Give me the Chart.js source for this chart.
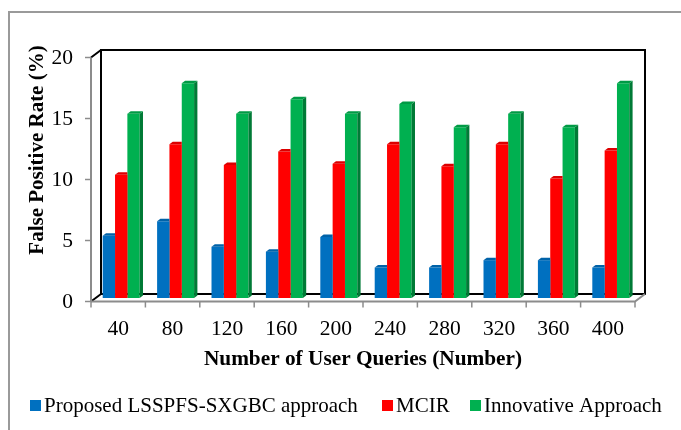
<!DOCTYPE html>
<html>
<head>
<meta charset="utf-8">
<script src="https://cdn.jsdelivr.net/npm/chart.js@4/dist/chart.umd.min.js"></script>
<style>
  html, body { margin: 0; padding: 0; background: #ffffff; }
  #wrap { width: 681px; height: 430px; position: relative; }
</style>
</head>
<body>
<div id="wrap"><canvas id="c" width="681" height="430"></canvas></div>
<script>
// Number of user queries on the x axis
const categories = ['40', '80', '120', '160', '200', '240', '280', '320', '360', '400'];
// False positive rate (%) of each method
const proposed   = [5.1, 6.3, 4.2, 3.8, 5.0, 2.5, 2.5, 3.1, 3.1, 2.5];
const mcir       = [10.1, 12.6, 10.9, 12.0, 11.0, 12.6, 10.8, 12.6, 9.8, 12.1];
const innovative = [15.1, 17.6, 15.1, 16.3, 15.1, 15.9, 14.0, 15.1, 14.0, 17.6];
const yTicks = [0, 5, 10, 15, 20];
const seriesNames = ['Proposed LSSPFS-SXGBC approach', 'MCIR', 'Innovative Approach'];

const frontColors = ['#0070C0', '#FF0000', '#00B050'];
const sideColors  = ['#00518c', '#b50000', '#007a36'];
const topColors   = ['#0062a8', '#dc0000', '#009a45'];

const FONT = '"Liberation Serif", "Times New Roman", serif';
// oblique offsets from the bar plane to the front edge and to the back wall
const FRONT = { dx: -3, dy: 3.5 };
const BACK  = { dx: 7,  dy: -4 };
const DEPTH = { dx: 3.3, dy: 2.5 };
// legend swatch positions
const LEGEND_X = [30, 382, 470];

// side and top faces of each column; a neighbouring column hides what lies behind it
const columns3d = {
  id: 'columns3d',
  afterDatasetsDraw(chart) {
    const ctx = chart.ctx;
    const metas = chart.getSortedVisibleDatasetMetas().sort((a, b) => a.index - b.index);
    metas.forEach((meta, k) => {
      const next = metas[k + 1];
      const i = meta.index;
      meta.data.forEach((el, j) => {
        const p = el.getProps(['x', 'y', 'base', 'width'], true);
        const l = p.x - p.width / 2, r = p.x + p.width / 2;
        ctx.save();
        if (next) {
          const q = next.data[j].getProps(['x', 'y', 'base', 'width'], true);
          ctx.beginPath();
          ctx.rect(0, 0, chart.width, chart.height);
          ctx.rect(q.x - q.width / 2, q.y, q.width, q.base - q.y);
          ctx.clip('evenodd');
        }
        ctx.fillStyle = sideColors[i];
        ctx.beginPath();
        ctx.moveTo(r, p.base);
        ctx.lineTo(r + DEPTH.dx, p.base - DEPTH.dy);
        ctx.lineTo(r + DEPTH.dx, p.y - DEPTH.dy);
        ctx.lineTo(r, p.y);
        ctx.closePath();
        ctx.fill();
        ctx.fillStyle = topColors[i];
        ctx.beginPath();
        ctx.moveTo(l, p.y);
        ctx.lineTo(l + DEPTH.dx, p.y - DEPTH.dy);
        ctx.lineTo(r + DEPTH.dx, p.y - DEPTH.dy);
        ctx.lineTo(r, p.y);
        ctx.closePath();
        ctx.fill();
        ctx.restore();
      });
    });
  }
};

// walls, floor, axes, labels, titles and legend
const frame = {
  id: 'frame',
  beforeDatasetsDraw(chart) {
    const { ctx, chartArea: ca, scales: { x, y } } = chart;
    ctx.save();
    // outer border
    ctx.strokeStyle = '#9a9a9a';
    ctx.lineWidth = 2;
    ctx.beginPath();
    ctx.moveTo(9, 440); ctx.lineTo(9, 12); ctx.lineTo(690, 12);
    ctx.stroke();

    const yTop = y.getPixelForValue(yTicks[yTicks.length - 1]);
    const yBot = y.getPixelForValue(0);
    // back wall
    ctx.strokeStyle = '#000';
    ctx.lineWidth = 2;
    ctx.strokeRect(ca.left + BACK.dx, yTop + BACK.dy, ca.right - ca.left, yBot - yTop);
    ctx.beginPath();
    ctx.moveTo(ca.left + FRONT.dx, yBot + FRONT.dy);
    ctx.lineTo(ca.left + BACK.dx, yBot + BACK.dy);
    ctx.moveTo(ca.left + FRONT.dx, yTop + FRONT.dy);
    ctx.lineTo(ca.left + BACK.dx, yTop + BACK.dy);
    ctx.stroke();
    // floor front edge and vertical axis
    ctx.strokeStyle = '#8c8c8c';
    ctx.lineWidth = 2;
    ctx.beginPath();
    ctx.moveTo(ca.left + FRONT.dx, yBot + FRONT.dy);
    ctx.lineTo(ca.right + FRONT.dx, yBot + FRONT.dy);
    ctx.lineTo(ca.right + BACK.dx, yBot + BACK.dy);
    ctx.moveTo(ca.left + FRONT.dx, yTop + FRONT.dy);
    ctx.lineTo(ca.left + FRONT.dx, yBot + FRONT.dy);
    ctx.stroke();

    // y ticks and labels
    ctx.lineWidth = 1.5;
    ctx.fillStyle = '#000';
    ctx.font = '21.5px ' + FONT;
    ctx.textAlign = 'right';
    ctx.textBaseline = 'middle';
    y.ticks.forEach(t => {
      const py = y.getPixelForValue(t.value) + FRONT.dy;
      ctx.beginPath();
      ctx.moveTo(ca.left + FRONT.dx - 6, py);
      ctx.lineTo(ca.left + FRONT.dx, py);
      ctx.stroke();
      ctx.fillText(String(t.value), ca.left + FRONT.dx - 18, py + 1);
    });

    // x ticks and labels
    const cw = (ca.right - ca.left) / categories.length;
    for (let i = 0; i <= categories.length; i++) {
      const px = ca.left + FRONT.dx + i * cw;
      ctx.beginPath();
      ctx.moveTo(px, yBot + FRONT.dy);
      ctx.lineTo(px, yBot + FRONT.dy + 6);
      ctx.stroke();
    }
    ctx.textAlign = 'center';
    ctx.textBaseline = 'alphabetic';
    categories.forEach((c, i) => {
      ctx.fillText(c, x.getPixelForValue(i) + FRONT.dx, 335);
    });

    // axis titles
    ctx.font = 'bold 21.3px ' + FONT;
    const midX = (ca.left + ca.right) / 2 + FRONT.dx;
    ctx.fillText('Number of User Queries (Number)', midX, 365);
    ctx.font = 'bold 21px ' + FONT;
    ctx.save();
    ctx.translate(43, 150);
    ctx.rotate(-Math.PI / 2);
    ctx.fillText('False Positive Rate (%)', 0, 0);
    ctx.restore();

    // legend
    ctx.font = '21px ' + FONT;
    ctx.textAlign = 'left';
    seriesNames.forEach((name, i) => {
      const lx = LEGEND_X[i];
      ctx.fillStyle = frontColors[i];
      ctx.fillRect(lx, 400, 11, 11);
      ctx.fillStyle = '#000';
      ctx.fillText(name, lx + 14, 412);
    });
    ctx.restore();
  }
};

new Chart(document.getElementById('c'), {
  type: 'bar',
  data: {
    labels: categories,
    datasets: [
      { label: seriesNames[0], data: proposed,   backgroundColor: frontColors[0] },
      { label: seriesNames[1], data: mcir,       backgroundColor: frontColors[1] },
      { label: seriesNames[2], data: innovative, backgroundColor: frontColors[2] }
    ]
  },
  options: {
    responsive: false,
    animation: false,
    devicePixelRatio: 1,
    layout: { padding: { left: 94, right: 43, top: 54, bottom: 132 } },
    datasets: { bar: { categoryPercentage: 0.68, barPercentage: 1.0, borderWidth: 0 } },
    scales: {
      x: { display: false, offset: true },
      y: { display: false, min: 0, max: 20, ticks: { stepSize: 5 } }
    },
    plugins: { legend: { display: false }, tooltip: { enabled: false } }
  },
  plugins: [frame, columns3d]
});
</script>
</body>
</html>
